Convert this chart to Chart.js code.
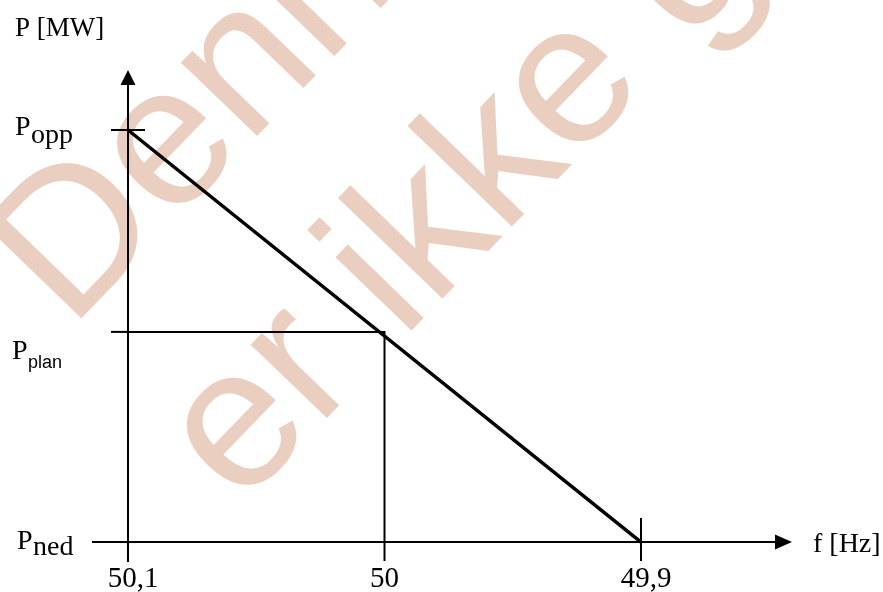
<!DOCTYPE html>
<html><head><meta charset="utf-8">
<script src="https://cdn.jsdelivr.net/npm/chart.js@4/dist/chart.umd.min.js"></script>
<style>html,body{margin:0;padding:0;background:#fff}#wrap{width:883px;height:592px}canvas{display:block}</style>
</head><body><div id="wrap"><canvas id="c" width="883" height="592"></canvas></div>
<script>
// ---- data ----
const freqTicks = [50.1, 50, 49.9];
const freqTickLabels = ['50,1', '50', '49,9'];
const powerSubscripts = ['ned', 'plan', 'opp'];
const powerValues = [0, 0.51, 1];
const droopFreq = [50.1, 49.9];
const droopPower = [1, 0];
const planFreq = 50;
const planPower = 0.51;
const axisTitleY = 'P [MW]';
const axisTitleX = 'f [Hz]';
const watermarkLines = ['Denne', 'er ikke gyldig'];

// ---- styles ----
const SERIF = '"Liberation Serif", "DejaVu Serif", serif';
const SANS = '"Liberation Sans", Arial, sans-serif';
const labelStyle = {
  ned:  {x: 17, dyP: 7,  dySub: 13, subFont: '28px ' + SERIF},
  plan: {x: 12, dyP: 27, dySub: 36, subFont: '18px ' + SANS},
  opp:  {x: 15, dyP: 5,  dySub: 13, subFont: '28px ' + SERIF}
};

const droopData = droopFreq.map((f, i) => ({x: f, y: droopPower[i]}));
const guideData = [
  {x: droopFreq[0], y: planPower},
  {x: planFreq, y: planPower},
  {x: planFreq, y: powerValues[0]}
];

const diagram = {
  id: 'diagram',
  beforeDatasetsDraw(chart) {
    const ctx = chart.ctx, xs = chart.scales.x, ys = chart.scales.y;
    const x0 = xs.getPixelForValue(droopFreq[0]);
    const yb = ys.getPixelForValue(powerValues[0]);
    ctx.save();
    ctx.strokeStyle = '#000'; ctx.fillStyle = '#000'; ctx.lineWidth = 2;
    // y axis
    ctx.beginPath(); ctx.moveTo(x0, ys.bottom); ctx.lineTo(x0, ys.top + 12); ctx.stroke();
    ctx.beginPath(); ctx.moveTo(x0, ys.top); ctx.lineTo(x0 - 7.5, ys.top + 15); ctx.lineTo(x0 + 7.5, ys.top + 15); ctx.closePath(); ctx.fill();
    // x axis
    ctx.beginPath(); ctx.moveTo(xs.left, yb); ctx.lineTo(xs.right - 12, yb); ctx.stroke();
    ctx.beginPath(); ctx.moveTo(xs.right, yb); ctx.lineTo(xs.right - 17, yb - 7.5); ctx.lineTo(xs.right - 17, yb + 7.5); ctx.closePath(); ctx.fill();
    // frequency tick marks
    freqTicks.forEach(f => {
      const px = xs.getPixelForValue(f);
      const up = (f === droopFreq[1]) ? 24 : 0;
      ctx.beginPath(); ctx.moveTo(px, yb - up); ctx.lineTo(px, yb + 19); ctx.stroke();
    });
    // power tick marks
    powerValues.forEach(p => {
      if (p === powerValues[0]) return;
      const py = ys.getPixelForValue(p);
      const right = (p === droopPower[0]) ? 17 : 0;
      ctx.beginPath(); ctx.moveTo(x0 - 17, py); ctx.lineTo(x0 + right, py); ctx.stroke();
    });
    ctx.restore();
  },
  afterDraw(chart) {
    const ctx = chart.ctx, xs = chart.scales.x, ys = chart.scales.y;
    ctx.save();
    ctx.fillStyle = '#000';
    ctx.textBaseline = 'alphabetic';
    // titles
    ctx.font = '27px ' + SERIF; ctx.textAlign = 'left';
    ctx.fillText(axisTitleY, 15, 36);
    ctx.font = '28px ' + SERIF;
    ctx.fillText(axisTitleX, 813, 552);
    // frequency tick labels
    ctx.font = '29px ' + SERIF; ctx.textAlign = 'center';
    freqTicks.forEach((f, i) => {
      const px = xs.getPixelForValue(f);
      ctx.fillText(freqTickLabels[i], px + (freqTickLabels[i].includes(',') ? 5 : 0), 587);
    });
    // power labels
    ctx.textAlign = 'left';
    powerValues.forEach((p, i) => {
      const st = labelStyle[powerSubscripts[i]];
      const py = ys.getPixelForValue(p);
      ctx.font = '28px ' + SERIF;
      ctx.fillText('P', st.x, py + st.dyP);
      const w = ctx.measureText('P').width;
      ctx.font = st.subFont;
      ctx.fillText(powerSubscripts[i], st.x + w + 0.5, py + st.dySub);
    });
    // watermark
    ctx.globalCompositeOperation = 'multiply';
    ctx.fillStyle = 'rgb(234,206,192)';
    ctx.font = '200px ' + SANS;
    ctx.translate(70, 330);
    ctx.rotate(-46 * Math.PI / 180);
    ctx.fillText(watermarkLines[0], 0, 0);
    ctx.fillText(watermarkLines[1], -10, 246);
    ctx.restore();
  }
};

new Chart(document.getElementById('c'), {
  type: 'line',
  data: {
    datasets: [
      {label: 'droop', data: droopData, borderColor: '#000', borderWidth: 3.5, pointRadius: 0, fill: false, tension: 0},
      {label: 'plan', data: guideData, borderColor: '#000', borderWidth: 2, pointRadius: 0, fill: false, tension: 0}
    ]
  },
  options: {
    responsive: false,
    animation: false,
    devicePixelRatio: 1,
    layout: {padding: {left: 92, right: 91, top: 70, bottom: 30}},
    plugins: {legend: {display: false}, tooltip: {enabled: false}, title: {display: false}},
    scales: {
      x: {type: 'linear', reverse: true, min: 49.84113, max: 50.11404, display: false},
      y: {type: 'linear', min: -0.0485, max: 1.1456, display: false}
    }
  },
  plugins: [diagram]
});
</script>
</body></html>
